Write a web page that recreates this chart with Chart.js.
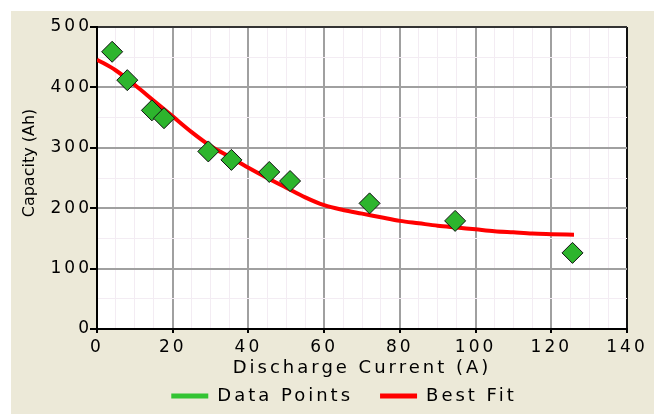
<!DOCTYPE html>
<html>
<head>
<meta charset="utf-8">
<script src="https://cdn.jsdelivr.net/npm/chart.js@4/dist/chart.umd.min.js"></script>
<style>
  html, body { margin: 0; padding: 0; background: #fff; }
  #wrap { position: absolute; left: 11px; top: 11px; width: 643px; height: 403px; background: #ece9d8; }
</style>
</head>
<body>
<div id="wrap"><canvas id="c"></canvas></div>
<script>
// measured points
const currentA = [4, 8, 14.5, 17.7, 29.4, 35.5, 45.5, 51, 72, 94.6, 125.6];
const capacityAh = [459, 412, 362, 349, 294, 280, 260, 245, 208, 179, 126];

// best fit curve
const fitX = [0, 5, 10, 15, 20, 25, 30, 35, 40, 45, 50, 55, 60, 65, 70, 75, 80, 85, 90, 95, 100, 105, 110, 115, 120, 126];
const fitY = [446, 428, 404, 378, 352, 326, 303, 285, 267, 250, 234, 218, 205, 197, 191, 185, 179, 175, 171, 168, 165, 162, 160, 158, 157, 156];

const xTicks = [0, 20, 40, 60, 80, 100, 120, 140];
const yTicks = [0, 100, 200, 300, 400, 500];

const TICK_FONT = { family: 'DejaVu Sans', size: 17 };
const TITLE_FONT = { family: 'DejaVu Sans', size: 18 };
const GREEN = '#2db52d';
const RED = '#ff0000';
const SPACING = '3px';

const plotBg = {
  id: 'plotBg',
  beforeDraw(chart) {
    const { ctx, chartArea: a } = chart;
    ctx.letterSpacing = SPACING;
    ctx.save();
    ctx.fillStyle = '#fff';
    ctx.fillRect(a.left, a.top, a.right - a.left, a.bottom - a.top);
    ctx.restore();
  }
};

// wide bitmap-ish text, fixed legend box
const tweaks = {
  id: 'tweaks',
  afterInit(chart) {
    const lg = chart.legend;
    const fit = lg.fit;
    lg.fit = function () { fit.call(this); this.height = 35; };
  },
  beforeUpdate(chart) { chart.ctx.letterSpacing = SPACING; },
  afterUpdate(chart) {
    const y = chart.scales.y;
    if (!y._plain) {
      const orig = y.drawTitle;
      y.drawTitle = function () {
        const c = this.ctx;
        c.save();
        c.letterSpacing = '0px';
        c.translate(0, -15); // title sits a bit above centre in the original
        orig.apply(this, arguments);
        c.restore();
      };
      y._plain = true;
    }
  },
  afterLayout(chart) {
    const lg = chart.legend;
    lg.top -= 19;
    lg.left += 25; lg.right += 25;
  }
};

const has = (list, v) => list.indexOf(v) >= 0;

new Chart(document.getElementById('c'), {
  type: 'scatter',
  data: {
    datasets: [
      {
        label: 'Data Points',
        data: currentA.map((x, i) => ({ x, y: capacityAh[i] })),
        pointStyle: 'rectRot',
        pointRadius: 10.5,
        backgroundColor: GREEN,
        borderColor: '#111',
        borderWidth: 1,
        order: 0
      },
      {
        label: 'Best Fit',
        type: 'line',
        data: fitX.map((x, i) => ({ x, y: fitY[i] })),
        borderColor: RED,
        backgroundColor: RED,
        borderWidth: 4,
        pointRadius: 0,
        cubicInterpolationMode: 'monotone',
        order: 1
      }
    ]
  },
  options: {
    responsive: true,
    maintainAspectRatio: false,
    animation: false,
    layout: { padding: { left: 0, right: 27, top: 16, bottom: 0 } },
    plugins: {
      tooltip: { enabled: false },
      legend: {
        position: 'bottom',
        labels: {
          font: TITLE_FONT,
          color: '#000',
          boxWidth: 37,
          boxHeight: 5,
          padding: 27,
          generateLabels: () => [
            { text: 'Data Points', fillStyle: '#33c433', strokeStyle: '#33c433', lineWidth: 0, datasetIndex: 0 },
            { text: 'Best Fit', fillStyle: RED, strokeStyle: RED, lineWidth: 0, datasetIndex: 1 }
          ]
        }
      }
    },
    scales: {
      x: {
        type: 'linear',
        min: 0, max: 140,
        afterFit: s => { s.height = 50; },
        afterBuildTicks: s => { s.ticks = []; for (let v = 0; v <= 140; v += 5) s.ticks.push({ value: v }); },
        ticks: {
          autoSkip: false,
          font: TICK_FONT, color: '#000', padding: 4, maxRotation: 0,
          callback: v => has(xTicks, v) ? v : ''
        },
        grid: {
          color: c => !c.tick ? '#a0a0a0' : c.tick.value === 140 ? '#111' : has(xTicks, c.tick.value) ? '#a0a0a0' : '#f3ecf3',
          lineWidth: c => (c.tick && has(xTicks, c.tick.value)) ? 2 : 1,
          tickColor: c => (c.tick && has(xTicks, c.tick.value)) ? '#000' : 'rgba(0,0,0,0)',
          tickLength: 4
        },
        border: { color: '#000', width: 2 },
        title: { display: true, text: 'Discharge Current (A)', font: TITLE_FONT, color: '#000', padding: 0 }
      },
      y: {
        min: 0, max: 500,
        afterFit: s => { s.width = 86; },
        afterBuildTicks: s => { s.ticks = []; for (let v = 0; v <= 500; v += 50) s.ticks.push({ value: v }); },
        ticks: {
          autoSkip: false,
          font: TICK_FONT, color: '#000', padding: -2,
          callback: v => has(yTicks, v) ? v : ''
        },
        grid: {
          color: c => !c.tick ? '#a0a0a0' : c.tick.value === 500 ? '#333' : has(yTicks, c.tick.value) ? '#a0a0a0' : '#f3ecf3',
          lineWidth: c => (c.tick && has(yTicks, c.tick.value)) ? 2 : 1,
          tickColor: c => (c.tick && has(yTicks, c.tick.value)) ? '#000' : 'rgba(0,0,0,0)',
          tickLength: 7
        },
        border: { color: '#000', width: 2 },
        title: { display: true, text: 'Capacity (Ah)', font: { family: 'DejaVu Sans', size: 16 }, color: '#000', padding: { top: 9, bottom: 0 } }
      }
    }
  },
  plugins: [plotBg, tweaks]
});
</script>
</body>
</html>
